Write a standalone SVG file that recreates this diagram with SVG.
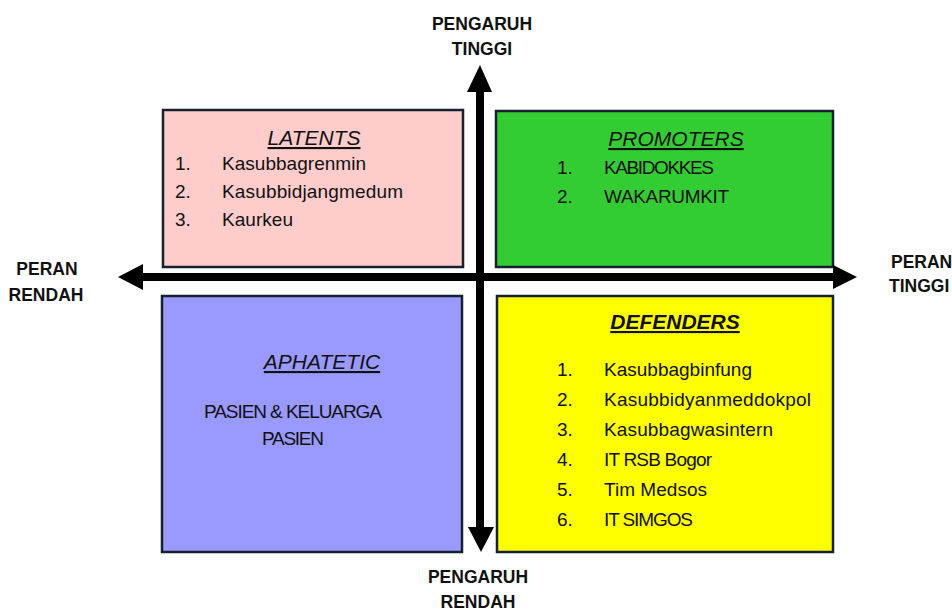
<svg xmlns="http://www.w3.org/2000/svg" width="952" height="611" viewBox="0 0 952 611">
<style>
.box{stroke:#16202e;stroke-width:2.5}
.t{font-family:"Liberation Sans",Arial,sans-serif;fill:#111}
.title{font-family:"Liberation Sans",Arial,sans-serif;font-size:21px;font-style:italic;text-decoration:underline;fill:#111;text-anchor:middle}
.item{font-family:"Liberation Sans",Arial,sans-serif;font-size:19px;fill:#111}
.ax{font-family:"Liberation Sans",Arial,sans-serif;font-size:17.5px;font-weight:bold;fill:#111}
.arrow{fill:#000}
</style>
<rect width="952" height="611" fill="#fff"/>
<g id="latents">
<rect class="box" x="163" y="110" width="300" height="157" fill="#ffcccc"/>
<text class="title" x="314" y="145">LATENTS</text>
<text class="item" x="175" y="170">1.</text><text class="item" x="222" y="170" textLength="144">Kasubbagrenmin</text>
<text class="item" x="175" y="198">2.</text><text class="item" x="222" y="198" textLength="181">Kasubbidjangmedum</text>
<text class="item" x="175" y="226">3.</text><text class="item" x="222" y="226" textLength="71">Kaurkeu</text>
</g>
<g id="promoters">
<rect class="box" x="496" y="111" width="337" height="156" fill="#33cc33"/>
<text class="title" x="676" y="146">PROMOTERS</text>
<text class="item" x="557" y="174">1.</text><text class="item" x="604" y="174" textLength="110">KABIDOKKES</text>
<text class="item" x="557" y="203">2.</text><text class="item" x="604" y="203" textLength="125">WAKARUMKIT</text>
</g>
<g id="aphatetic">
<rect class="box" x="162" y="296" width="300" height="256" fill="#9999ff"/>
<text class="title" x="322" y="369">APHATETIC</text>
<text class="item" x="293" y="418" text-anchor="middle" textLength="178">PASIEN &amp; KELUARGA</text>
<text class="item" x="293" y="445" text-anchor="middle" textLength="62">PASIEN</text>
</g>
<g id="defenders">
<rect class="box" x="497" y="296" width="336" height="256" fill="#ffff00"/>
<text class="title" x="675" y="329" font-weight="bold">DEFENDERS</text>
<text class="item" x="557" y="376">1.</text><text class="item" x="604" y="376" textLength="148">Kasubbagbinfung</text>
<text class="item" x="557" y="406">2.</text><text class="item" x="604" y="406" textLength="207">Kasubbidyanmeddokpol</text>
<text class="item" x="557" y="436">3.</text><text class="item" x="604" y="436" textLength="169">Kasubbagwasintern</text>
<text class="item" x="557" y="466">4.</text><text class="item" x="604" y="466" textLength="108">IT RSB Bogor</text>
<text class="item" x="557" y="496">5.</text><text class="item" x="604" y="496" textLength="103">Tim Medsos</text>
<text class="item" x="557" y="526">6.</text><text class="item" x="604" y="526" textLength="89">IT SIMGOS</text>
</g>
<g id="connectors">
<rect class="arrow" x="140" y="273" width="695" height="8"/>
<polygon class="arrow" points="118,277 143,264 143,290"/>
<polygon class="arrow" points="857,277 833,265 833,289"/>
<rect class="arrow" x="476" y="90" width="8" height="440"/>
<polygon class="arrow" points="480,65 467,92 492,92"/>
<polygon class="arrow" points="481,552 468,527 494,527"/>
</g>
<g id="labels">
<text class="ax" x="482" y="30" text-anchor="middle">PENGARUH</text>
<text class="ax" x="482" y="55" text-anchor="middle">TINGGI</text>
<text class="ax" x="47" y="275" text-anchor="middle">PERAN</text>
<text class="ax" x="46" y="301" text-anchor="middle">RENDAH</text>
<text class="ax" x="891" y="268">PERAN</text>
<text class="ax" x="889" y="292">TINGGI</text>
<text class="ax" x="478" y="583" text-anchor="middle">PENGARUH</text>
<text class="ax" x="478" y="608" text-anchor="middle">RENDAH</text>
</g>
</svg>
